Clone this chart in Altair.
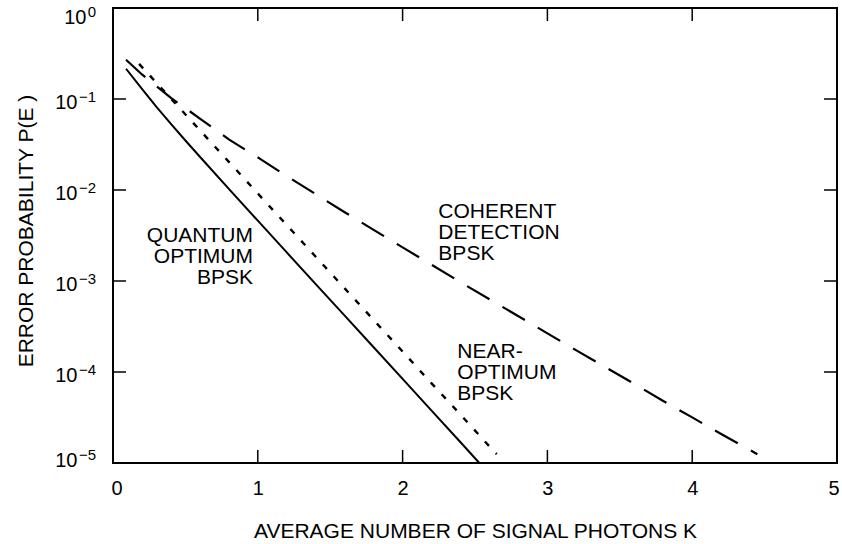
import altair as alt
import pandas as pd

W, H = 724, 455
FONT = "Liberation Sans"

# ---- data ----
k_quantum = [0.09, 0.2, 0.3, 0.4, 0.5, 0.6, 0.8, 1.0, 1.2, 1.4, 1.6, 1.8, 2.0, 2.2, 2.4, 2.53]
p_quantum = [0.215, 0.129, 0.082, 0.0533, 0.035, 0.0232, 0.0103, 0.0046, 0.00206, 0.000925,
             0.000416, 0.000187, 8.4e-5, 3.77e-5, 1.69e-5, 1.0e-5]

k_near = [0.18, 0.3, 0.4, 0.6, 0.8, 1.0, 1.2, 1.4, 1.6, 1.8, 2.0, 2.2, 2.4, 2.6, 2.65]
p_near = [0.243, 0.151, 0.101, 0.0454, 0.0204, 0.00916, 0.00412, 0.00185, 0.00083, 0.000373,
          0.000168, 7.5e-5, 3.4e-5, 1.52e-5, 1.25e-5]

k_coherent = [0.09, 0.2, 0.4, 0.6, 0.8, 1.0, 1.2, 1.4, 1.6, 1.8, 2.0, 2.2, 2.4, 2.6, 2.8, 3.0,
              3.2, 3.4, 3.6, 3.8, 4.0, 4.2, 4.45]
p_coherent = [0.27, 0.186, 0.103, 0.061, 0.036, 0.0228, 0.0142, 0.009, 0.0057, 0.00365, 0.00234,
              0.00151, 0.00097, 0.00063, 0.00041, 0.000266, 0.000173, 0.000113, 7.4e-5, 4.8e-5,
              3.17e-5, 2.08e-5, 1.25e-5]

x_ticks = [0, 1, 2, 3, 4, 5]
y_ticks = [1, 1e-1, 1e-2, 1e-3, 1e-4, 1e-5]
y_exponents = ["0", "\u22121", "\u22122", "\u22123", "\u22124", "\u22125"]
x_inner_ticks = [1, 2, 3, 4]
y_inner_ticks = [1e-1, 1e-2, 1e-3, 1e-4]

label_text = ["QUANTUM\nOPTIMUM\nBPSK", "COHERENT\nDETECTION\nBPSK", "NEAR-\nOPTIMUM\nBPSK"]
label_k = [0.967, 2.247, 2.378]
label_p = [3.13e-3, 5.77e-3, 1.67e-4]

# ---- encodings ----
x_enc = alt.X(
    "K:Q",
    scale=alt.Scale(domain=[0, 5], nice=False, zero=False),
    axis=alt.Axis(
        values=x_ticks, format="d",
        title="AVERAGE NUMBER OF SIGNAL PHOTONS K",
        labelFlush=True, labelFlushOffset=2, labelPadding=15,
        titleY=74, titleBaseline="alphabetic",
    ),
)
y_enc = alt.Y(
    "P:Q",
    scale=alt.Scale(type="log", domain=[1e-5, 1], nice=False),
    axis=alt.Axis(
        values=y_ticks,
        labelExpr="'10'",
        title="ERROR PROBABILITY P(E )",
        titleX=-81, titleY=H / 2 - 5, titleAngle=270, titleBaseline="alphabetic", titleAlign="center",
        labelOverlap=False, labelFlush=False,
        labelPadding={"condition": {"test": "datum.value >= 0.5", "value": 27}, "value": 36},
        labelOffset={"condition": [{"test": "datum.value >= 0.5", "value": 9},
                                   {"test": "datum.value < 2e-5", "value": -3}],
                     "value": 3},
    ),
)

df_q = pd.DataFrame({"K": k_quantum, "P": p_quantum})
df_n = pd.DataFrame({"K": k_near, "P": p_near})
df_c = pd.DataFrame({"K": k_coherent, "P": p_coherent})
df_xt = pd.DataFrame({"K": x_inner_ticks})
df_yt = pd.DataFrame({"P": y_inner_ticks})
df_exp = pd.DataFrame({"P": y_ticks, "exp": y_exponents})
df_lab = pd.DataFrame({"K": label_k, "P": label_p, "label": label_text})

line_q = alt.Chart(df_q).mark_line(color="black", strokeWidth=2).encode(x=x_enc, y=y_enc)
line_n = alt.Chart(df_n).mark_line(color="black", strokeWidth=2.4, strokeDash=[6, 10]).encode(x=x_enc, y=y_enc)
line_c = alt.Chart(df_c).mark_line(color="black", strokeWidth=2.2, strokeDash=[26, 15]).encode(x=x_enc, y=y_enc)

tick_top = alt.Chart(df_xt).mark_rule(color="black", strokeWidth=1.5).encode(
    x=x_enc, y=alt.value(0), y2=alt.value(13))
tick_bot = alt.Chart(df_xt).mark_rule(color="black", strokeWidth=1.5).encode(
    x=x_enc, y=alt.value(H - 13), y2=alt.value(H))
tick_left = alt.Chart(df_yt).mark_rule(color="black", strokeWidth=1.5).encode(
    y=y_enc, x=alt.value(0), x2=alt.value(13))
tick_right = alt.Chart(df_yt).mark_rule(color="black", strokeWidth=1.5).encode(
    y=y_enc, x=alt.value(W - 13), x2=alt.value(W))


def exponent_layer(test, dy):
    return alt.Chart(df_exp).transform_filter(test).mark_text(
        align="right", baseline="middle", font=FONT, fontSize=15, color="black", dy=dy
    ).encode(y=y_enc, x=alt.value(-17), text="exp:N")


exp_top = exponent_layer("datum.P >= 0.5", 3.5)
exp_mid = exponent_layer("datum.P < 0.5 && datum.P > 2e-5", -2.5)
exp_bot = exponent_layer("datum.P < 2e-5", -8.5)

txt_right = alt.Chart(df_lab.iloc[[0]]).mark_text(
    align="right", baseline="middle", font=FONT, fontSize=21, lineHeight=21, lineBreak="\n", color="black"
).encode(x=x_enc, y=y_enc, text="label:N")
txt_left = alt.Chart(df_lab.iloc[[1, 2]]).mark_text(
    align="left", baseline="middle", font=FONT, fontSize=21, lineHeight=21, lineBreak="\n", color="black"
).encode(x=x_enc, y=y_enc, text="label:N")

chart = alt.layer(
    line_c, line_n, line_q, tick_top, tick_bot, tick_left, tick_right,
    exp_top, exp_mid, exp_bot, txt_right, txt_left
).properties(
    width=W, height=H,
    autosize=alt.AutoSizeParams(type="none"),
    padding={"left": 113, "top": 8, "right": 5, "bottom": 81},
    background="white",
).configure_view(
    stroke="black", strokeWidth=2
).configure_axis(
    grid=False, domain=False, ticks=False, tickSize=0,
    labelFont=FONT, labelFontSize=20, labelColor="black",
    titleFont=FONT, titleFontSize=21, titleFontWeight="normal", titleColor="black",
)

chart.save("out.html", embed_options={"renderer": "svg", "actions": False})
